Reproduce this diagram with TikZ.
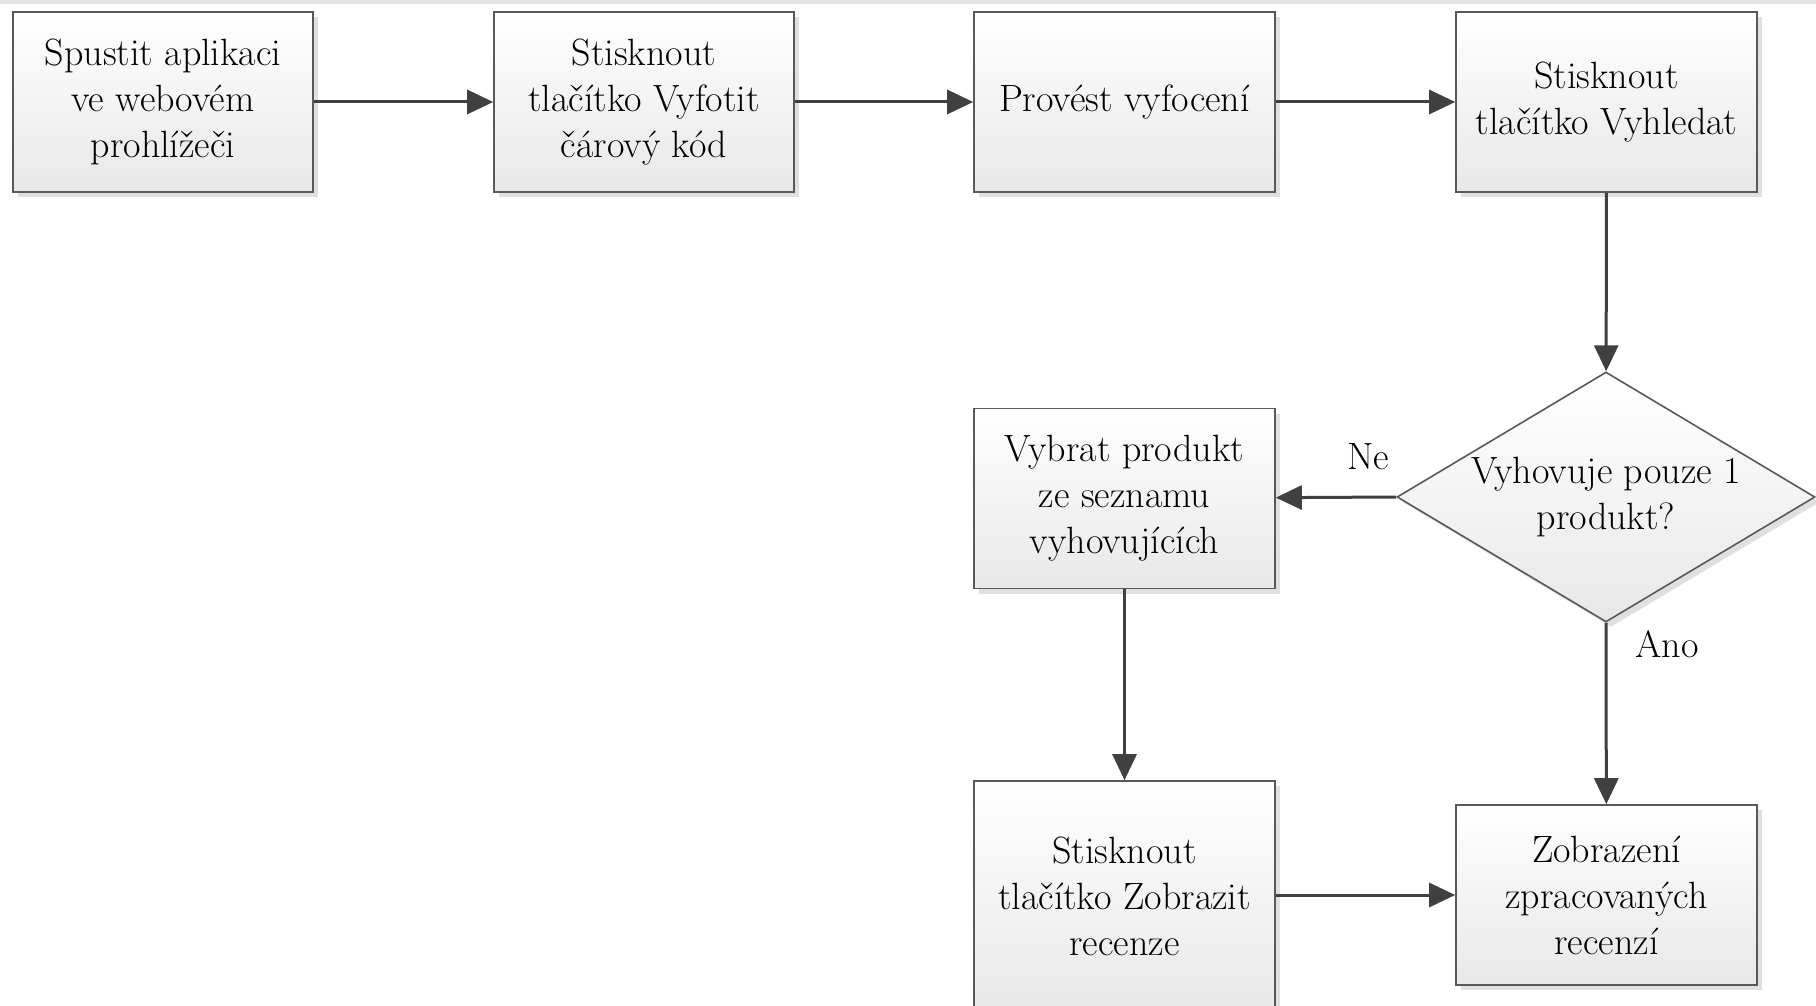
\documentclass[tikz,border=0pt]{standalone}
\usepackage{tikz}
\usetikzlibrary{arrows.meta,positioning,shapes.geometric,shadows}

\tikzset{
  stepbox/.style={draw=black!65, line width=0.8pt, top color=white, bottom color=black!9,
    minimum width=150pt, minimum height=90pt, inner sep=0pt, align=center,
    drop shadow={shadow xshift=2.5pt, shadow yshift=-2.5pt, fill=black!12, opacity=1}},
  decision/.style={diamond, draw=black!65, line width=0.8pt, top color=white, bottom color=black!9,
    minimum width=209pt, minimum height=125pt, inner sep=0pt, aspect=1.67,
    drop shadow={shadow xshift=2.5pt, shadow yshift=-2.5pt, fill=black!12, opacity=1}},
  flow/.style={->, draw=black!75, line width=1.5pt},
  edgelabel/.style={font=\fontsize{19}{23}\selectfont, inner sep=0pt}
}

\begin{document}
\begin{tikzpicture}[x=0.5pt, y=-0.5pt, >={Triangle[length=13pt,width=12pt]},
    font=\fontsize{19}{23}\selectfont]
			\useasboundingbox (0,0) rectangle (1816,1006);
			% Draw the top strip
			\fill[black!10] (0,0) rectangle (1816,4);
			
			% Draw the first row
			\node[stepbox] (spustit) at (163,102) {Spustit aplikaci\\ve webovém\\prohlížeči};
			\node[stepbox] (vyfotit) at (644,102) {Stisknout\\tlačítko Vyfotit\\čárový kód};
			\node[stepbox, minimum width=150.5pt] (vyfoceni) at (1124.5,102) {Provést vyfocení};
			\node[stepbox, minimum width=150.5pt] (vyhledat) at (1606.5,102) {Stisknout\\tlačítko Vyhledat};
			
			% Draw the decision
			\node[decision, label={[align=center, yshift=0pt]center:Vyhovuje pouze 1\\produkt?}] (dotaz) at (1606,497) {};
			\node[stepbox, minimum width=150.5pt] (vybrat) at (1124.5,498.5) {Vybrat produkt\\ze seznamu\\vyhovujících};
			
			% Draw the last row
			\node[stepbox, minimum width=150.5pt, minimum height=115pt] (zobrazit) at (1124.5,896) {Stisknout\\tlačítko Zobrazit\\recenze};
			\node[stepbox, minimum width=150.5pt] (recenze) at (1606.5,895) {Zobrazení\\zpracovaných\\recenzí};
			
			% Draw the arrows
			\draw[flow] (spustit) -- (vyfotit);
			\draw[flow] (vyfotit) -- (vyfoceni);
			\draw[flow] (vyfoceni) -- (vyhledat);
			\draw[flow] (vyhledat) -- (dotaz);
			\draw[flow] (dotaz.west) -- node[edgelabel, pos=0.23, above=13pt] {Ne} (vybrat);
			\draw[flow] (dotaz.south) -- node[edgelabel, pos=0.12, right=14pt] {Ano} (recenze);
			\draw[flow] (vybrat) -- (zobrazit);
			\draw[flow] (zobrazit.east |- recenze.west) -- (recenze.west);
			
		\end{tikzpicture}
\end{document}
